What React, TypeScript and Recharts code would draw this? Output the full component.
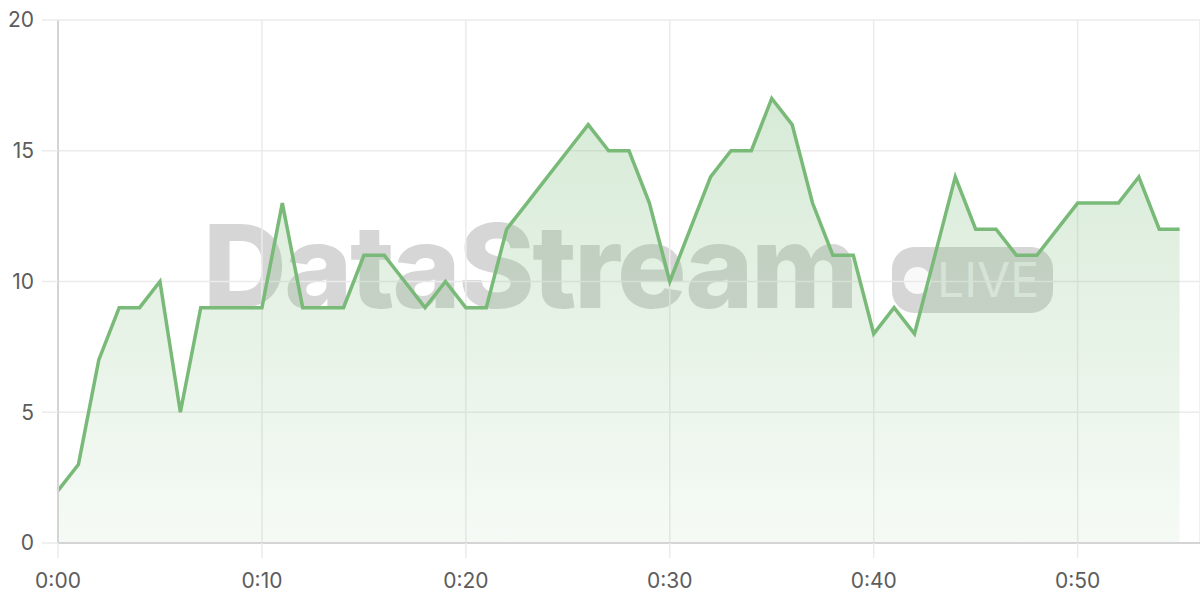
import React from 'react';
import { AreaChart, Area, XAxis, YAxis, CartesianGrid } from 'recharts';

const seconds = [
  0, 1, 2, 3, 4, 5, 6, 7, 8, 9, 10, 11, 12, 13, 14, 15, 16, 17, 18, 19,
  20, 21, 22, 23, 24, 25, 26, 27, 28, 29, 30, 31, 32, 33, 34, 35, 36, 37, 38, 39,
  40, 41, 42, 43, 44, 45, 46, 47, 48, 49, 50, 51, 52, 53, 54, 55,
];
const values = [
  2, 3, 7, 9, 9, 10, 5, 9, 9, 9, 9, 13, 9, 9, 9, 11, 11, 10, 9, 10,
  9, 9, 12, 13, 14, 15, 16, 15, 15, 13, 10, 12, 14, 15, 15, 17, 16, 13, 11, 11,
  8, 9, 8, 11, 14, 12, 12, 11, 11, 12, 13, 13, 13, 14, 12, 12,
];
const xTicks = [0, 10, 20, 30, 40, 50];
const yTicks = [0, 5, 10, 15, 20];

const data = seconds.map((s, i) => ({ t: s, v: values[i] }));

const fmtTime = (s: number) => `${Math.floor(s / 60)}:${String(s % 60).padStart(2, '0')}`;

const FONT = 'Inter, "Noto Sans", sans-serif';
const GREEN = '#79ba79';

export default function App() {
  return (
    <div style={{ position: 'fixed', left: 0, top: 0, width: 1200, height: 600, background: '#fff' }}>
      <div
        style={{
          position: 'absolute',
          left: 0,
          top: 0,
          width: 1200,
          height: 600,
          pointerEvents: 'none',
        }}
      >
        <div
          style={{
            position: 'absolute',
            left: 203,
            top: 196,
            fontFamily: FONT,
            fontWeight: 800,
            fontSize: 116,
            lineHeight: '140px',
            letterSpacing: -2.5,
            color: 'rgba(0,0,0,0.16)',
            whiteSpace: 'nowrap',
          }}
        >
          DataStream
        </div>
        <div
          style={{
            position: 'absolute',
            left: 892,
            top: 247,
            width: 161,
            height: 66,
            borderRadius: 22,
            background: 'rgba(0,0,0,0.16)',
          }}
        >
          <div
            style={{
              position: 'absolute',
              left: 12,
              top: 20,
              width: 27,
              height: 27,
              borderRadius: '50%',
              background: 'rgba(255,255,255,0.85)',
            }}
          />
          <div
            style={{
              position: 'absolute',
              left: 45,
              top: 0,
              height: 66,
              lineHeight: '66px',
              fontFamily: FONT,
              fontWeight: 400,
              fontSize: 48,
              color: 'rgba(255,255,255,0.6)',
              whiteSpace: 'nowrap',
            }}
          >
            LIVE
          </div>
        </div>
      </div>
      <div style={{ position: 'absolute', left: 0, top: 0 }}>
        <AreaChart width={1200} height={600} data={data} margin={{ top: 20, right: 0, bottom: 0, left: 0 }}>
          <defs>
            <linearGradient id="areaFill" x1="0" y1="0" x2="0" y2="1">
              <stop offset="0%" stopColor={GREEN} stopOpacity={0.3} />
              <stop offset="100%" stopColor={GREEN} stopOpacity={0.07} />
            </linearGradient>
          </defs>
          <CartesianGrid stroke="#ebebeb" strokeWidth={1.5} />
          <XAxis
            dataKey="t"
            type="number"
            domain={[0, 56]}
            ticks={xTicks}
            tickFormatter={fmtTime}
            height={57}
            tickSize={15}
            tickMargin={15}
            axisLine={{ stroke: '#d4d4d4', strokeWidth: 2 }}
            tickLine={{ stroke: '#ebebeb', strokeWidth: 1.5 }}
            tick={{ fill: '#5c5c5c', fontSize: 21, fontFamily: FONT }}
            interval={0}
          />
          <YAxis
            type="number"
            domain={[0, 20]}
            ticks={yTicks}
            width={58}
            tickSize={16}
            tickMargin={8}
            axisLine={{ stroke: '#d4d4d4', strokeWidth: 2 }}
            tickLine={{ stroke: '#ebebeb', strokeWidth: 1.5 }}
            tick={{ fill: '#5c5c5c', fontSize: 21, fontFamily: FONT }}
            interval={0}
          />
          <Area
            type="linear"
            dataKey="v"
            stroke={GREEN}
            strokeWidth={3.5}
            fill="url(#areaFill)"
            fillOpacity={1}
            dot={false}
            activeDot={false}
            isAnimationActive={false}
          />
        </AreaChart>
      </div>
    </div>
  );
}
